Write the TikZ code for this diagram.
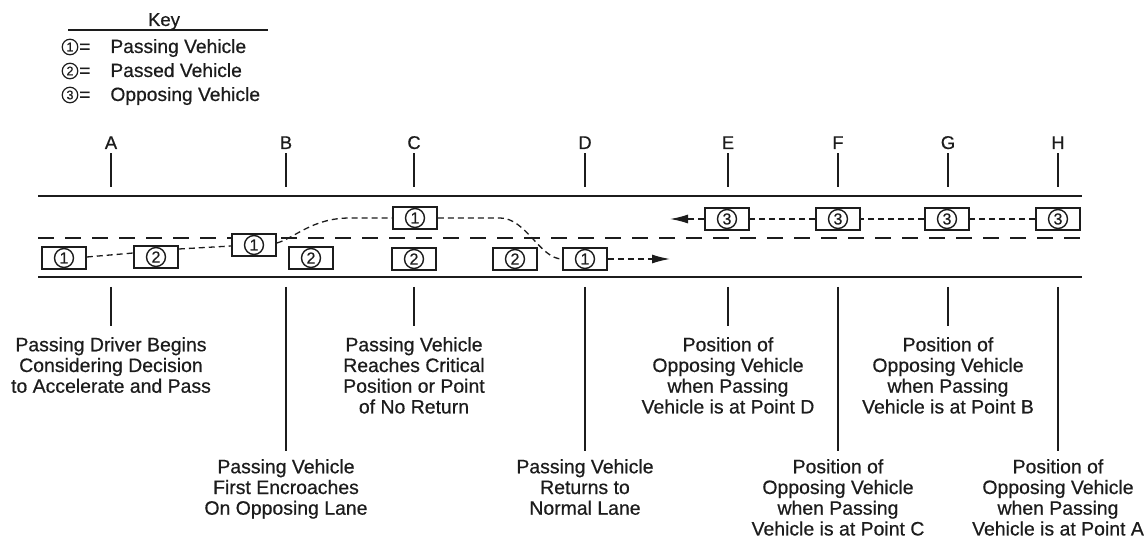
\documentclass[tikz,border=0pt]{standalone}
\usepackage{fontspec}
\setmainfont{Liberation Sans}[FakeBold=0.6]
\usetikzlibrary{arrows.meta,calc}
\definecolor{ink}{HTML}{1C1C1C}
\newcommand{\carbox}[3]{\node[veh] (#1) at (#2) {}; \node[num] (#1n) at (#1) {#3};}
\begin{document}
\begin{tikzpicture}[x=1bp,y=-1bp, every node/.style={text=ink}, color=ink,
  road/.style={line width=1.9bp},
  centerline/.style={line width=1.8bp, dash pattern=on 16bp off 11bp},
  tickline/.style={line width=1.3bp},
  veh/.style={draw, line width=1.6bp, fill=white, minimum width=44bp, minimum height=22bp, inner sep=0},
  num/.style={circle, draw, line width=1.4bp, minimum size=19bp, inner sep=0, font=\fontsize{16}{16}\selectfont},
  knum/.style={circle, draw, line width=1.2bp, minimum size=15.5bp, inner sep=0, font=\fontsize{12.5}{12.5}\selectfont},
  vpath/.style={line width=1.3bp, dash pattern=on 6bp off 4bp},
  tip/.style={-{Latex[length=18bp,width=9bp]}},
  lbl/.style={align=center, inner sep=0, anchor=north, font=\fontsize{19.5}{20.8}\selectfont},
  letter/.style={anchor=base, inner sep=0, font=\fontsize{18.5}{20}\selectfont},
  keytext/.style={anchor=base west, inner sep=0, font=\fontsize{19.3}{22}\selectfont}]
\useasboundingbox (0,0) rectangle (1148,544);

% key
\node[anchor=base, inner sep=0, font=\fontsize{18.6}{20}\selectfont] (key) at (164,26) {Key};
\draw[line width=1.5bp] (68,30) -- (268,30);
\node[knum] (k1) at (70,47) {1};
\node[keytext] (k1t) at (79,53) {=\hspace{20bp}Passing Vehicle};
\node[knum] (k2) at (70,71) {2};
\node[keytext] (k2t) at (79,77) {=\hspace{20bp}Passed Vehicle};
\node[knum] (k3) at (70,95) {3};
\node[keytext] (k3t) at (79,101) {=\hspace{20bp}Opposing Vehicle};

% road
\draw[road] (38,196) -- (1082,196);
\draw[road] (38,277) -- (1082,277);
\draw[centerline] (38,238) -- (1082,238);

% vehicles
\carbox{pA}{64,258}{1}
\carbox{qA}{156,257}{2}
\carbox{pB}{254,245}{1}
\carbox{qB}{311,258}{2}
\carbox{pC}{415,218}{1}
\carbox{qC}{414,259}{2}
\carbox{qD}{515,259}{2}
\carbox{pD}{585,259}{1}
\carbox{oE}{727,219}{3}
\carbox{oF}{838,219}{3}
\carbox{oG}{947,219}{3}
\carbox{oH}{1058,219}{3}

% passing vehicle path
\draw[vpath] ($(pA.east)+(0,-1)$) -- ($(qA.west)+(0,-4)$);
\draw[vpath] ($(qA.east)+(0,-8)$) -- ($(pB.west)+(0,1)$);
\draw[vpath] ($(pB.east)+(0,-2)$) .. controls (295,238) and (312,218) .. (350,218) -- (pC.west);
\draw[vpath] (pC.east) -- (500,218) .. controls (526,218) and (540,259) .. (pD.west);
\coordinate (pEnd) at (670,259);
\draw[vpath,tip] (pD.east) -- (pEnd);

% opposing vehicle path
\draw[vpath] (oH.west) -- (oG.east);
\draw[vpath] (oG.west) -- (oF.east);
\draw[vpath] (oF.west) -- (oE.east);
\coordinate (oEnd) at (670,219);
\draw[vpath,tip] (oE.west) -- (oEnd);

% letters and upper ticks
\foreach \n/\x in {A/111,B/286,C/414,D/585,E/728,F/838,G/948,H/1058}{
  \node[letter] (l\n) at (\x,149) {\n};
  \draw[tickline] ($(l\n.south)+(0,4)$) -- ($(l\n.south)+(0,38)$);
}

% lower labels
\node[lbl] (tA) at (111,337) {Passing Driver Begins\\Considering Decision\\to Accelerate and Pass};
\node[lbl] (tB) at (286,459) {Passing Vehicle\\First Encroaches\\On Opposing Lane};
\node[lbl] (tC) at (414,337) {Passing Vehicle\\Reaches Critical\\Position or Point\\of No Return};
\node[lbl] (tD) at (585,459) {Passing Vehicle\\Returns to\\Normal Lane};
\node[lbl] (tE) at (728,337) {Position of\\Opposing Vehicle\\when Passing\\Vehicle is at Point D};
\node[lbl] (tF) at (838,459) {Position of\\Opposing Vehicle\\when Passing\\Vehicle is at Point C};
\node[lbl] (tG) at (948,337) {Position of\\Opposing Vehicle\\when Passing\\Vehicle is at Point B};
\node[lbl] (tH) at (1058,459) {Position of\\Opposing Vehicle\\when Passing\\Vehicle is at Point A};

\foreach \n in {A,C,E,G}{
  \draw[tickline] ($(t\n.north)+(0,-50)$) -- ($(t\n.north)+(0,-11)$);
}
\foreach \n in {B,D,F,H}{
  \draw[tickline] ($(t\n.north)+(0,-172)$) -- ($(t\n.north)+(0,-8)$);
}
\end{tikzpicture}
\end{document}
